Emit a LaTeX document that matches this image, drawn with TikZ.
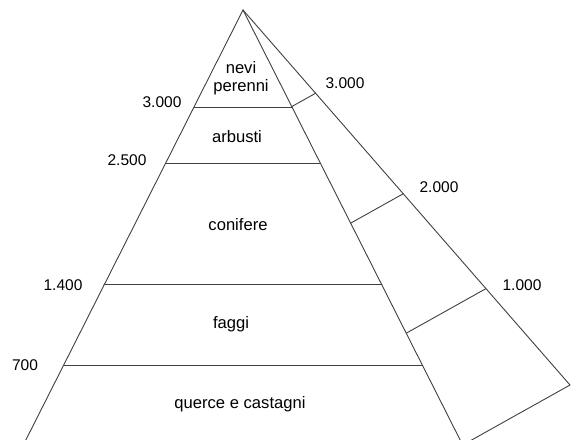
\documentclass[tikz,border=0pt]{standalone}
\usepackage{fontspec}
\setmainfont{Liberation Sans}
\usetikzlibrary{calc}

\begin{document}
\begin{tikzpicture}[
    x=1pt, y=-1pt, line cap=round,
    edge/.style ={draw=black!75, line width=0.9pt},
    zone/.style ={font=\fontsize{16.6}{17.5}\selectfont, align=center, inner sep=0pt},
    quota/.style={font=\fontsize{15.5}{17}\selectfont, inner sep=0pt, text height=11pt, text depth=0pt}
]
\useasboundingbox (0,0) rectangle (572,439);
\clip (0,0) rectangle (572,439);

% corners of the pyramid
\coordinate (apex) at (243,10);
\coordinate (bl) at (23.3,445);
\coordinate (br) at (462.7,445);
\coordinate (bo) at (570,385);

\draw[edge] (bl) -- (apex) -- (br);
\draw[edge] (apex) -- (bo) -- (br);

% front face: altitude bands
\foreach \t/\n in {0.223/a, 0.352/b, 0.632/c, 0.818/d} {
  \coordinate (l\n) at ($(apex)!\t!(bl)$);
  \coordinate (r\n) at ($(apex)!\t!(br)$);
  \draw[edge] (l\n) -- (r\n);
}

% side face
\foreach \t/\n in {0.222/a, 0.49/b, 0.743/c} {
  \coordinate (fi\n) at ($(apex)!\t!(br)$);
  \coordinate (fo\n) at ($(apex)!\t!(bo)$);
  \draw[edge] (fi\n) -- (fo\n);
}

% vegetation belts
\node[zone] (nevi)     at (241,78)  {nevi\\perenni};
\node[zone] (arbusti)  at (237,137) {arbusti};
\node[zone] (conifere) at (238,225) {conifere};
\node[zone] (faggi)    at (231,324) {faggi};
\node[zone] (querce)   at (240,404) {querce e castagni};

% heights, left side
\node[quota] (qa) at (162,102) {3.000};
\node[quota] (qb) at (127,160) {2.500};
\node[quota] (qc) at (63,285)  {1.400};
\node[quota] (qd) at (25,365)  {700};

% heights, right side
\node[quota] (sa) at (345,83)  {3.000};
\node[quota] (sb) at (439,187) {2.000};
\node[quota] (sc) at (522,285) {1.000};
\end{tikzpicture}
\end{document}
